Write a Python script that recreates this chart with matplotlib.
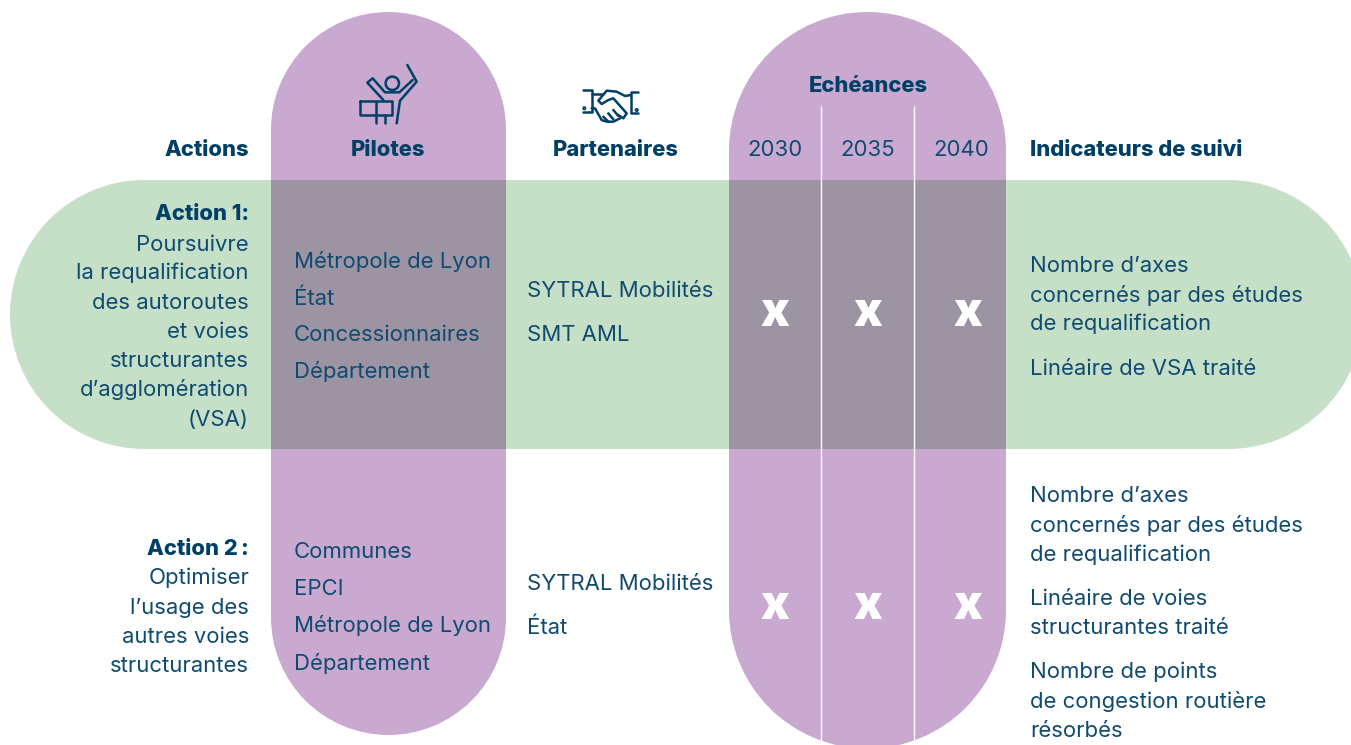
import matplotlib
matplotlib.use("Agg")
import numpy as np
import matplotlib.pyplot as plt
from matplotlib.patches import Rectangle, Circle, PathPatch
from matplotlib.path import Path

NAVY = "#0f4a70"
DARK = "#003f66"
PURPLE = "#c9a9d0"
GREEN = "#c6e0c8"
OVER = "#9c94a2"
FONT = ["Inter", "DejaVu Sans"]
SIZE = 15.9
BOLD = 15.8

col_heads = ["Actions", "Pilotes", "Partenaires", "Indicateurs de suivi"]
deadline_title = "Echéances"
years = ["2030", "2035", "2040"]
action_titles = ["Action 1:", "Action 2\u202f:"]
action_lines = [
    ["Poursuivre", "la requalification", "des autoroutes", "et voies", "structurantes", "d’agglomération", "(VSA)"],
    ["Optimiser", "l’usage des", "autres voies", "structurantes"],
]
pilots = [
    ["Métropole de Lyon", "État", "Concessionnaires", "Département"],
    ["Communes", "EPCI", "Métropole de Lyon", "Département"],
]
partners = [["SYTRAL Mobilités", "SMT AML"], ["SYTRAL Mobilités", "État"]]
indicators = [
    [("Nombre d’axes", 264), ("concernés par des études", 293), ("de requalification", 322), ("Linéaire de VSA traité", 367)],
    [("Nombre d’axes", 494), ("concernés par des études", 524), ("de requalification", 553),
     ("Linéaire de voies", 597), ("structurantes traité", 626),
     ("Nombre de points", 670), ("de congestion routière", 700), ("résorbés", 729)],
]
marks = ["x", "x", "x"]

fig = plt.figure(figsize=(13.51, 7.45), dpi=100)
ax = fig.add_axes([0, 0, 1, 1])
ax.set_xlim(0, 1351)
ax.set_ylim(745, 0)
ax.axis("off")


def pill(x0, y0, x1, y1, color, z):
    """Stadium shape drawn as one closed path, so that no seam shows."""
    r = min(x1 - x0, y1 - y0) / 2
    if x1 - x0 < y1 - y0:
        caps = [((x0 + r, y0 + r), 180, 360), ((x0 + r, y1 - r), 0, 180)]
    else:
        caps = [((x0 + r, y0 + r), 90, 270), ((x1 - r, y0 + r), -90, 90)]
    verts, codes = [], []
    for (cx, cy), a, b in caps:
        arc = Path.arc(a, b)
        v = np.asarray(arc.vertices) * r + (cx, cy)
        c = np.asarray(arc.codes).copy()
        c[0] = Path.MOVETO if not verts else Path.LINETO
        verts.append(v)
        codes.append(c)
    verts.append(verts[0][:1])
    codes.append(np.array([Path.CLOSEPOLY]))
    path = Path(np.vstack(verts), np.concatenate(codes))
    ax.add_patch(PathPatch(path, fc=color, ec="none", zorder=z))


pill(271, 12, 506, 735, PURPLE, 1)
pill(729, 12, 1006, 748.6, PURPLE, 1)
pill(10, 180, 1363, 449, GREEN, 2)
ax.add_patch(Rectangle((271, 180), 235, 269, fc=OVER, ec="none", zorder=3))
ax.add_patch(Rectangle((729, 180), 277, 269, fc=OVER, ec="none", zorder=3))
for x in (821, 914):
    ax.plot([x, x], [106, 745], color="white", lw=1.0, zorder=4, solid_capstyle="butt")


def t(x, y, s, ha="left", bold=False):
    ax.text(x, y, s, ha=ha, va="center_baseline", fontsize=BOLD if bold else SIZE,
            color=DARK if bold else NAVY, family=FONT,
            fontweight="heavy" if bold else "normal", zorder=6)


for x, s, ha in zip((249, 388, 616, 1030), col_heads, ("right", "center", "center", "left")):
    t(x, 148, s, ha=ha, bold=True)
t(868, 84, deadline_title, ha="center", bold=True)
for x, s in zip((775, 868, 961), years):
    t(x, 148, s, ha="center")

for title, y0, lines, ys in zip(action_titles, (212, 547), action_lines,
                                ([243, 271, 301, 330, 359, 388, 418], [576, 606, 635, 664])):
    t(249, y0, title, ha="right", bold=True)
    for y, s in zip(ys, lines):
        t(249, y, s, ha="right")

for names, ys in zip(pilots, ([260, 297, 333, 370], [550, 587, 624, 661])):
    for y, s in zip(ys, names):
        t(294, y, s)
for names, ys in zip(partners, ([289, 333], [582, 626])):
    for y, s in zip(ys, names):
        t(527, y, s)
for rows in indicators:
    for s, y in rows:
        t(1030, y, s)
for y in (309, 602):
    for x, m in zip((775, 868, 968), marks):
        ax.text(x, y, m, ha="center", va="center_baseline", fontsize=34, color="white",
                family=FONT, fontweight="black", zorder=6)

ic = dict(color=DARK, lw=1.8, solid_capstyle="round", solid_joinstyle="round", zorder=6)


def icon(ox, oy, pts):
    ax.plot([ox + p[0] / 3 for p in pts], [oy + p[1] / 3 for p in pts], **ic)


# conductor icon
CX, CY = 350, 60
for pts in (
    [(172, 15), (200, 65), (150, 122), (140, 190)],
    [(188, 60), (148, 97), (105, 97), (68, 55), (52, 68), (100, 120)],
    [(30, 122), (125, 122), (125, 165), (30, 165), (30, 122)],
    [(77, 122), (77, 190)],
    [(105, 165), (105, 190)],
):
    icon(CX, CY, pts)
ax.add_patch(Circle((392.3, 83.3), 6.7, fc="none", ec=DARK, lw=1.8, zorder=6))

# handshake icon
HX, HY = 575, 80
for pts in (
    [(25, 30), (50, 30), (50, 97), (25, 97)],
    [(190, 35), (168, 35), (168, 100), (190, 100)],
    [(50, 42), (85, 42)],
    [(168, 45), (150, 48), (125, 35), (95, 32), (70, 62), (80, 72), (100, 60), (115, 55), (155, 100), (145, 115), (130, 105)],
    [(50, 85), (60, 85), (80, 120), (95, 125), (115, 125), (135, 115)],
    [(85, 110), (100, 125)],
    [(100, 100), (115, 118)],
    [(115, 90), (130, 108)],
):
    icon(HX, HY, pts)
ax.add_patch(Circle((584.3, 108.3), 1.2, fc="none", ec=DARK, lw=1.2, zorder=6))
ax.add_patch(Circle((636.7, 110), 1.2, fc="none", ec=DARK, lw=1.2, zorder=6))

fig.savefig("out.png", dpi=100)
